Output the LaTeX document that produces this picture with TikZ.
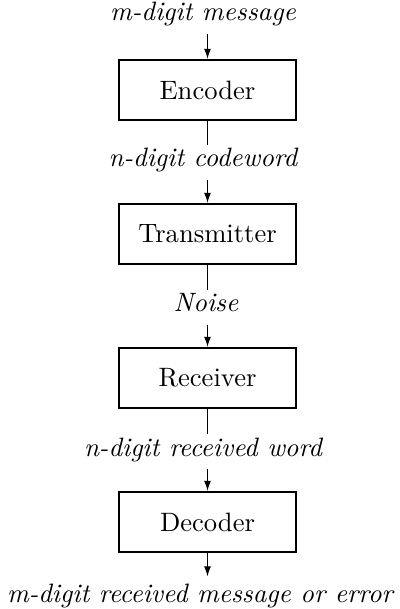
\documentclass[tikz,border=0pt]{standalone}
\usetikzlibrary{arrows.meta}
\begin{document}
\begin{tikzpicture}[x=0.376pt,y=-0.376pt,
  box/.style={draw, line width=0.8pt, minimum width=66.6pt, minimum height=22.6pt, inner sep=0pt},
  lbl/.style={font=\itshape, inner xsep=2pt, inner ysep=0pt, text height=7.9pt, text depth=4.7pt},
  arr/.style={-{Latex[length=3.8pt,width=2.6pt]}, line width=0.4pt},
  ln/.style={line width=0.4pt}]
\useasboundingbox (0,0) rectangle (399,609);
\node[box] (enc) at (207.5,90) {Encoder};
\node[box] (tra) at (207.5,234) {Transmitter};
\node[box] (rec) at (207.5,378) {Receiver};
\node[box] (dec) at (207.5,522) {Decoder};
\node[lbl, anchor=base] (l0) at (203,21) {m-digit message};
\node[lbl, anchor=base] (l1) at (203,166.7) {n-digit codeword};
\node[lbl, anchor=base] (l2) at (206,311.7) {Noise};
\node[lbl, anchor=base] (l3) at (203,456) {n-digit received word};
\node[lbl, anchor=base] (l4) at (200,602) {m-digit received message or error};
\draw[arr] (l0.south -| enc.north) -- (enc.north);
\draw[ln] (enc.south) -- (enc.south |- l1.north);
\draw[arr] (l1.south -| tra.north) -- (tra.north);
\draw[ln] (tra.south) -- (tra.south |- l2.north);
\draw[arr] (l2.south -| rec.north) -- (rec.north);
\draw[ln] (rec.south) -- (rec.south |- l3.north);
\draw[arr] (l3.south -| dec.north) -- (dec.north);
\draw[arr] (dec.south) -- ([yshift=1.5pt]dec.south |- l4.north);
\end{tikzpicture}
\end{document}
